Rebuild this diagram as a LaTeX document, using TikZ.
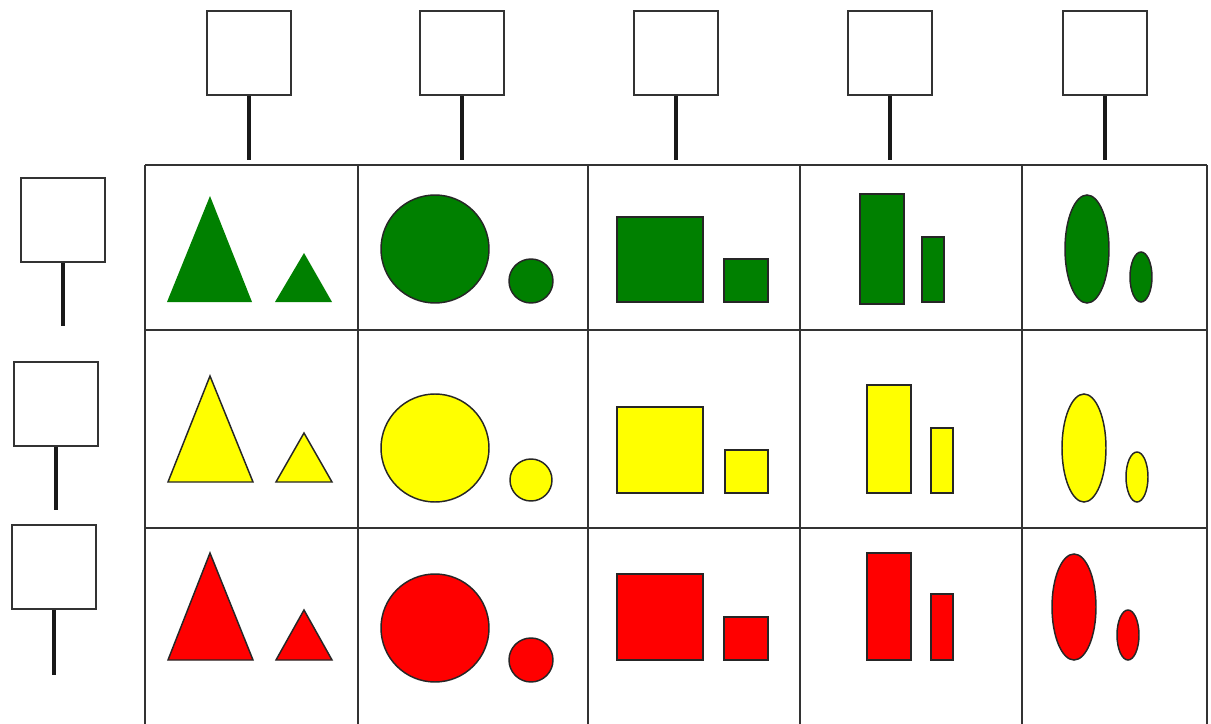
\documentclass[tikz,border=0pt]{standalone}
\usepackage{tikz}
\usetikzlibrary{positioning}

\definecolor{leafgreen}{RGB}{0,128,0}
\definecolor{signyellow}{RGB}{255,255,0}
\definecolor{signred}{RGB}{255,0,0}

\begin{document}
\begin{tikzpicture}[x=0.75pt,y=-0.75pt,
    valbox/.style={draw=black!80,line width=1.8pt,fill=white,inner sep=0pt,minimum size=63pt},
    stem/.style={line width=2.8pt,black!90},
    gridline/.style={line width=1.8pt,black!80},
    piece/.style={draw=black!85,line width=1.1pt}]
      \useasboundingbox[fill=white] (0,0) rectangle (1211,724);
      % table lines
      \draw[gridline] (145,165)--(1207,165);
      \draw[gridline] (145,330)--(1207,330);
      \draw[gridline] (145,528)--(1207,528);
      \draw[gridline] (145,165)--(145,724);
      \draw[gridline] (358,165)--(358,724);
      \draw[gridline] (588,165)--(588,724);
      \draw[gridline] (800,165)--(800,724);
      \draw[gridline] (1022,165)--(1022,724);
      \draw[gridline] (1207,165)--(1207,724);
      % column boxes
      \node[valbox] (c1) at (249,53) {};
      \node[valbox] (c2) at (462,53) {};
      \node[valbox] (c3) at (676,53) {};
      \node[valbox] (c4) at (890,53) {};
      \node[valbox] (c5) at (1105,53) {};
      \coordinate (c1end) at (249,160);
      \coordinate (c2end) at (462,160);
      \coordinate (c3end) at (676,160);
      \coordinate (c4end) at (890,160);
      \coordinate (c5end) at (1105,160);
      \draw[stem] (c1)--(c1end);
      \draw[stem] (c2)--(c2end);
      \draw[stem] (c3)--(c3end);
      \draw[stem] (c4)--(c4end);
      \draw[stem] (c5)--(c5end);
      % row boxes
      \node[valbox] (r1) at (63,220) {};
      \node[valbox] (r2) at (56,404) {};
      \node[valbox] (r3) at (54,567) {};
      \coordinate (r1end) at (63,326);
      \coordinate (r2end) at (56,510);
      \coordinate (r3end) at (54,675);
      \draw[stem] (r1)--(r1end);
      \draw[stem] (r2)--(r2end);
      \draw[stem] (r3)--(r3end);
      % green row
      \fill[leafgreen] (167,302)--(210,196)--(252,302)--cycle;
      \fill[leafgreen] (275,302)--(304,253)--(332,302)--cycle;
      \draw[piece,fill=leafgreen] (435,249) circle [radius=54];
      \draw[piece,fill=leafgreen] (531,281) circle [radius=22];
      \draw[piece,fill=leafgreen] (617,217) rectangle (703,302);
      \draw[piece,fill=leafgreen] (724,259) rectangle (768,302);
      \draw[piece,fill=leafgreen] (860,194) rectangle (904,304);
      \draw[piece,fill=leafgreen] (922,237) rectangle (944,302);
      \draw[piece,fill=leafgreen] (1087,249) ellipse [x radius=22,y radius=54];
      \draw[piece,fill=leafgreen] (1141,277) ellipse [x radius=11,y radius=25];
      % yellow row
      \draw[piece,fill=signyellow] (168,482)--(210,376)--(253,482)--cycle;
      \draw[piece,fill=signyellow] (276,482)--(304,433)--(332,482)--cycle;
      \draw[piece,fill=signyellow] (435,448) circle [radius=54];
      \draw[piece,fill=signyellow] (531,480) circle [radius=21];
      \draw[piece,fill=signyellow] (617,407) rectangle (703,493);
      \draw[piece,fill=signyellow] (725,450) rectangle (768,493);
      \draw[piece,fill=signyellow] (867,385) rectangle (911,493);
      \draw[piece,fill=signyellow] (931,428) rectangle (953,493);
      \draw[piece,fill=signyellow] (1084,448) ellipse [x radius=22,y radius=54];
      \draw[piece,fill=signyellow] (1137,477) ellipse [x radius=11,y radius=25];
      % red row
      \draw[piece,fill=signred] (168,660)--(210,553)--(253,660)--cycle;
      \draw[piece,fill=signred] (276,660)--(304,610)--(332,660)--cycle;
      \draw[piece,fill=signred] (435,628) circle [radius=54];
      \draw[piece,fill=signred] (531,660) circle [radius=22];
      \draw[piece,fill=signred] (617,574) rectangle (703,660);
      \draw[piece,fill=signred] (724,617) rectangle (768,660);
      \draw[piece,fill=signred] (867,553) rectangle (911,660);
      \draw[piece,fill=signred] (931,594) rectangle (953,660);
      \draw[piece,fill=signred] (1074,607) ellipse [x radius=22,y radius=53];
      \draw[piece,fill=signred] (1128,635) ellipse [x radius=11,y radius=25];
    \end{tikzpicture}
\end{document}
